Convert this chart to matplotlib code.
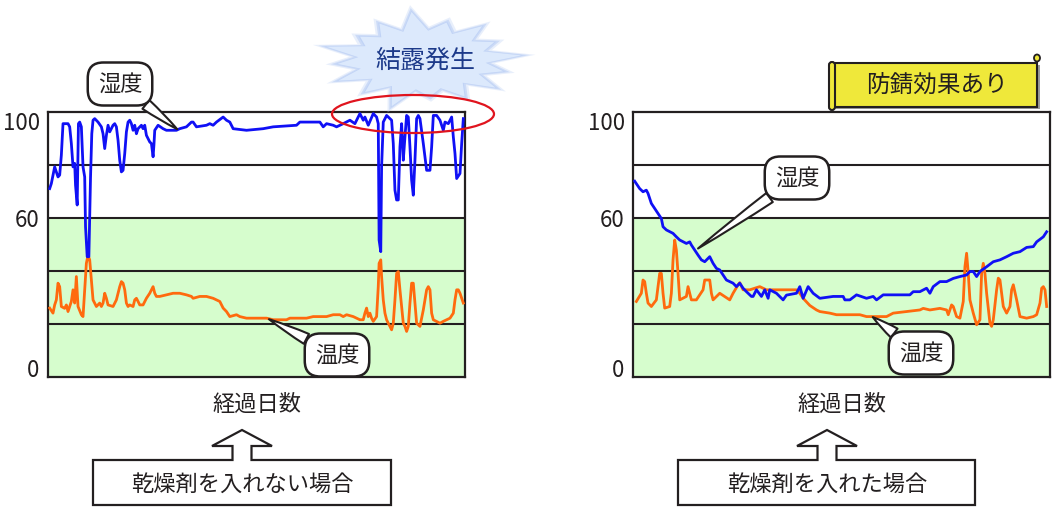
import matplotlib.pyplot as plt
import numpy as np
from matplotlib.patches import Polygon, Ellipse, FancyBboxPatch, Rectangle

plt.rcParams['font.family'] = ['Noto Sans CJK JP', 'DejaVu Sans']

# --- data (x: elapsed days scaled 0-100, y: %) ---
hum_no_x = [0.4, 0.8, 1.6, 2.4, 2.8, 3.2, 3.6, 4.8, 5.2, 5.6, 6.0, 6.4, 6.6, 7.0, 7.3, 7.6,
            8.0, 8.4, 8.8, 9.0, 9.4, 9.8, 10.2, 10.5, 10.8, 11.2, 12.0, 12.8, 13.2, 13.6,
            14.0, 14.4, 14.8, 15.6, 16.0, 16.4, 16.8, 17.2, 17.6, 18.0, 18.4, 18.8, 19.2,
            19.6, 20.0, 20.4, 20.8, 21.2, 21.6, 22.4, 22.8, 23.2, 23.6, 24.4, 24.8, 25.2,
            25.4, 25.6, 26.4, 27.6, 28.4, 30.8, 31.6, 33.2, 34.4, 34.8, 35.6, 38.0, 38.8,
            39.6, 40.4, 42.0, 42.8, 43.6, 44.4, 47.6, 51.6, 54.0, 59.6, 60.4, 65.2, 66.0,
            66.8, 68.4, 69.2, 70.8, 72.4, 73.6, 74.8, 75.6, 76.0, 76.8, 78.0, 78.8, 79.2,
            79.4, 79.8, 80.0, 80.4, 81.2, 82.4, 82.8, 83.2, 83.6, 84.0, 84.4, 84.8, 85.2,
            85.6, 86.0, 86.4, 86.8, 87.2, 87.6, 88.0, 88.4, 88.8, 89.2, 90.0, 90.8, 91.6,
            92.0, 92.4, 93.2, 94.0, 94.8, 95.2, 96.0, 96.8, 97.2, 97.6, 98.0, 98.8, 99.2, 99.6]
hum_no_y = [71.1, 73.0, 79.3, 75.5, 76.2, 83.7, 95.6, 95.6, 94.4, 88.1, 79.3, 80.6, 72.4, 64.9, 95.6, 96.2,
            94.4, 79.3, 75.5, 56.7, 45.4, 45.4, 75.5, 91.8, 96.9, 97.5, 96.2, 94.4, 91.8, 86.2,
            91.2, 95.0, 92.5, 95.0, 95.6, 94.4, 89.3, 81.8, 77.4, 78.0, 84.3, 92.5, 96.2,
            96.9, 95.6, 93.1, 95.0, 91.8, 93.7, 95.0, 93.7, 95.0, 91.2, 88.7, 88.1, 83.1,
            87.5, 93.1, 95.0, 93.7, 93.1, 93.1, 93.7, 94.4, 96.2, 96.2, 94.4, 95.0, 95.6,
            95.0, 96.2, 98.1, 96.9, 96.2, 93.7, 93.1, 93.7, 94.4, 95.0, 96.2, 96.2, 94.4,
            95.6, 95.0, 94.4, 95.6, 96.9, 95.6, 99.4, 96.9, 98.1, 95.0, 99.4, 98.1, 95.6,
            51.7, 47.3, 79.3, 96.2, 98.7, 96.9, 88.1, 70.5, 66.8, 66.8, 86.8, 95.6, 81.8,
            90.6, 98.7, 98.1, 86.8, 74.3, 68.6, 81.8, 97.5, 98.7, 97.5, 88.1, 78.0, 78.0,
            86.8, 98.7, 98.7, 96.9, 93.1, 96.2, 95.6, 98.1, 90.6, 84.3, 74.9, 76.8, 88.1, 97.5]

temp_no_x = [0.4, 1.2, 1.6, 2.0, 2.4, 2.8, 3.2, 4.0, 4.4, 4.8, 5.6, 6.0, 6.4, 6.8, 7.2, 8.0,
             8.4, 8.8, 9.2, 9.6, 10.0, 10.4, 10.8, 11.6, 12.4, 12.8, 13.2, 13.6, 14.0, 14.4,
             15.6, 16.4, 17.2, 17.6, 18.0, 18.4, 18.8, 19.2, 19.6, 20.4, 20.8, 21.2, 21.6,
             22.0, 22.8, 23.6, 24.4, 25.2, 25.6, 26.0, 26.8, 28.4, 30.0, 31.6, 33.2, 34.4,
             34.8, 36.4, 38.0, 39.6, 40.4, 41.2, 42.0, 42.8, 43.6, 45.2, 46.0, 47.6, 52.4,
             54.0, 57.2, 58.0, 62.0, 63.6, 66.8, 68.4, 70.0, 70.8, 71.6, 73.2, 74.0, 74.8,
             75.6, 76.0, 76.4, 76.8, 77.2, 77.6, 78.0, 78.8, 79.2, 79.4, 79.8, 80.0, 80.4,
             80.8, 81.2, 81.6, 82.0, 82.4, 82.8, 83.2, 83.6, 84.0, 84.4, 84.8, 85.2, 85.6,
             86.0, 86.4, 86.8, 87.2, 87.6, 88.0, 88.4, 89.2, 90.0, 90.8, 91.2, 91.6, 92.0,
             92.4, 94.0, 94.8, 96.4, 97.2, 97.6, 98.0, 98.4, 98.8, 99.6]
temp_no_y = [26.0, 24.1, 27.2, 29.1, 35.4, 34.1, 26.6, 25.9, 27.2, 24.7, 28.5, 32.9, 27.9, 37.9, 26.6, 23.5,
             22.8, 32.9, 42.9, 46.0, 44.2, 36.6, 29.1, 26.6, 27.9, 26.6, 27.9, 31.6, 29.7, 27.2,
             26.6, 29.1, 34.1, 36.0, 35.4, 32.9, 27.9, 26.6, 27.2, 26.6, 29.1, 29.7, 28.5,
             27.2, 27.2, 29.7, 31.6, 34.1, 31.6, 30.4, 30.4, 31.0, 31.6, 31.6, 31.0, 30.4,
             29.7, 30.4, 30.4, 29.7, 29.1, 28.5, 26.0, 24.7, 22.8, 23.5, 22.8, 22.2, 22.2,
             21.6, 21.6, 22.2, 22.2, 22.8, 22.8, 23.5, 23.5, 22.8, 23.5, 22.8, 22.2, 21.6,
             21.6, 24.1, 26.0, 22.8, 24.1, 22.2, 21.0, 22.8, 34.1, 42.9, 44.2, 37.9, 29.1,
             24.1, 21.6, 20.3, 19.1, 17.8, 20.3, 29.1, 39.1, 39.8, 32.9, 26.6, 20.3, 19.1,
             17.2, 19.1, 27.9, 35.4, 35.4, 27.9, 20.3, 19.1, 25.3, 32.9, 34.1, 32.9, 24.1,
             21.6, 20.3, 21.0, 22.2, 24.1, 29.1, 32.9, 32.9, 31.6, 27.9]

hum_dry_x = [0.4, 1.6, 2.4, 3.2, 3.6, 4.4, 5.2, 6.0, 6.8, 7.2, 8.0, 9.6, 10.4, 11.2, 12.8, 13.6,
             14.0, 14.8, 15.6, 16.4, 17.2, 18.4, 19.2, 20.0, 20.8, 21.6, 22.4, 24.0, 24.8,
             25.6, 26.4, 27.2, 28.4, 28.8, 29.6, 30.8, 31.6, 32.4, 32.8, 34.4, 36.0, 36.8,
             39.2, 40.0, 40.8, 42.0, 43.2, 44.8, 48.0, 50.4, 50.8, 52.0, 53.6, 56.0, 57.6,
             58.4, 60.0, 66.4, 67.2, 68.8, 70.4, 71.2, 72.0, 73.6, 75.2, 76.8, 78.4, 80.0,
             80.8, 81.6, 82.4, 83.2, 84.8, 86.4, 88.0, 89.6, 91.2, 92.8, 94.4, 96.0, 96.8,
             98.4, 99.2]
hum_dry_y = [73.9, 71.1, 69.9, 70.5, 69.3, 65.5, 63.6, 61.7, 59.8, 56.7, 55.5, 54.2, 52.9, 51.7, 50.4, 51.0,
             49.8, 47.9, 46.0, 44.2, 43.5, 45.4, 42.9, 41.0, 40.4, 38.5, 36.6, 35.4, 34.1,
             35.4, 33.5, 32.2, 30.4, 30.4, 32.9, 30.4, 32.9, 29.7, 32.9, 31.6, 29.1, 30.9,
             31.6, 34.1, 29.7, 34.1, 31.6, 29.7, 30.4, 30.4, 29.1, 29.1, 31.0, 29.7, 30.4,
             29.1, 31.0, 31.0, 32.2, 32.2, 33.5, 31.6, 34.1, 36.0, 36.0, 37.2, 37.9, 38.5,
             39.8, 39.8, 37.9, 39.8, 41.6, 43.5, 44.2, 45.4, 46.7, 47.3, 48.9, 49.2, 51.0,
             52.9, 54.8]

temp_dry_x = [0.8, 2.0, 2.4, 2.8, 3.2, 3.6, 4.4, 5.6, 6.4, 6.8, 7.2, 7.6, 8.8, 9.2, 9.6, 10.0,
              10.4, 10.8, 11.2, 12.8, 13.2, 14.0, 15.2, 16.8, 17.2, 18.4, 18.8, 19.2, 20.8,
              23.2, 24.0, 25.2, 25.6, 26.4, 28.0, 30.4, 32.0, 39.2, 40.0, 40.8, 42.4, 44.0,
              44.8, 47.2, 48.8, 54.4, 56.0, 60.8, 62.4, 65.6, 68.8, 69.6, 71.2, 73.6, 75.2,
              75.6, 76.4, 76.8, 77.6, 78.4, 79.2, 79.6, 80.0, 80.4, 80.8, 81.6, 82.4, 83.2,
              83.6, 84.0, 84.4, 84.8, 85.6, 86.0, 86.4, 87.2, 87.6, 88.0, 88.8, 89.6, 90.4,
              90.8, 91.2, 92.0, 92.8, 94.4, 96.0, 96.8, 97.6, 98.0, 98.4, 98.8, 99.2]
temp_dry_y = [28.5, 31.6, 36.6, 36.0, 31.6, 27.9, 26.6, 29.1, 39.1, 39.1, 31.6, 26.0, 26.6, 31.6, 44.2, 51.7,
              47.9, 39.1, 29.1, 30.4, 34.1, 29.1, 29.1, 32.9, 36.6, 36.6, 31.6, 29.1, 31.6,
              29.1, 31.6, 34.8, 35.6, 32.9, 32.9, 34.1, 32.9, 32.9, 31.6, 29.7, 27.0, 25.3,
              24.7, 24.1, 23.5, 23.5, 22.8, 22.8, 24.1, 24.7, 25.3, 25.9, 25.3, 25.9, 25.3,
              23.5, 27.2, 26.6, 22.8, 22.2, 28.5, 41.6, 46.7, 39.1, 29.1, 24.1, 19.7, 21.6,
              39.1, 42.9, 39.1, 31.6, 20.3, 19.1, 21.6, 32.9, 37.3, 36.6, 26.6, 24.1, 26.6,
              32.9, 34.8, 29.1, 22.8, 22.2, 22.8, 23.5, 27.9, 33.5, 34.1, 32.9, 26.6]

y_ticks = [0, 60, 100]
grid_levels = [20, 40, 60, 80]
x_label = '経過日数'

BLUE = '#1010f5'
ORANGE = '#ff6a0e'
GREEN = '#d6fdcd'
INK = '#231f20'

fig = plt.figure(figsize=(10.6, 5.16), dpi=100)


def make_panel(rect, hx, hy, tx, ty):
    ax = fig.add_axes(rect)
    ax.set_xlim(0, 100)
    ax.set_ylim(0, 100)
    ax.axhspan(0, 60, color=GREEN, zorder=0)
    for g in grid_levels:
        ax.axhline(g, color=INK, lw=1.5, zorder=1)
    ax.plot(tx, ty, color=ORANGE, lw=2.0, zorder=3)
    ax.plot(hx, hy, color=BLUE, lw=2.0, zorder=4)
    for s in ax.spines.values():
        s.set_color(INK)
        s.set_linewidth(1.6)
    ax.set_xticks([])
    ax.set_yticks(y_ticks)
    ax.set_yticklabels([str(v) for v in y_ticks], fontsize=16, color=INK)
    ax.tick_params(axis='y', length=0, pad=6)
    labs = ax.get_yticklabels()
    labs[0].set_va('baseline')
    labs[-1].set_va('top')
    ax.set_xlabel(x_label, fontsize=16, color=INK, labelpad=11)
    return ax


ax1 = make_panel([48 / 1060, 139 / 516, 417 / 1060, 265 / 516],
                 hum_no_x, hum_no_y, temp_no_x, temp_no_y)
ax2 = make_panel([633 / 1060, 139 / 516, 417 / 1060, 265 / 516],
                 hum_dry_x, hum_dry_y, temp_dry_x, temp_dry_y)


def callout(ax, label, xy, xytext):
    ax.annotate(label, xy=xy, xycoords='data',
                xytext=xytext, textcoords='figure pixels',
                ha='center', va='center', fontsize=16, color=INK, zorder=10,
                bbox=dict(boxstyle='round,pad=0.45,rounding_size=0.7',
                          fc='white', ec=INK, lw=1.8),
                arrowprops=dict(arrowstyle='wedge,tail_width=0.5,shrink_factor=0.6',
                                fc='white', ec=INK, lw=1.5, shrinkA=0, shrinkB=0))


callout(ax1, '湿度', (31, 93.5), (120, 432))
callout(ax1, '温度', (53, 21.8), (337, 161))
callout(ax2, '湿度', (15.6, 48.5), (797, 338))
callout(ax2, '温度', (57.5, 22.6), (921, 163))

# --- decoration layer in pixel coordinates ---
deco = fig.add_axes([0, 0, 1, 1])
deco.set_xlim(0, 1060)
deco.set_ylim(516, 0)
deco.axis('off')
deco.set_zorder(5)

# starburst
cx, cy = 422, 60
spikes = [1.0, 0.82, 0.95, 0.85, 1.05, 0.9, 0.8, 1.0, 0.85, 0.95, 0.9, 1.05, 0.8, 0.9, 0.95, 0.85]
n = len(spikes)
ang = np.linspace(0, 2 * np.pi, 2 * n, endpoint=False) + 0.1
rad = []
for k in range(n):
    rad += [spikes[k], 0.64]
rad = np.array(rad)
for scale, col, alpha in [(1.14, '#b4caf4', 0.3), (1.08, '#a3bdf1', 0.4), (1.03, '#bcd0f6', 0.7)]:
    pts = np.column_stack([cx + scale * 100 * rad * np.cos(ang), cy - scale * 46 * rad * np.sin(ang)])
    deco.add_patch(Polygon(pts, closed=True, fc=col, ec='none', alpha=alpha))
pts = np.column_stack([cx + 100 * rad * np.cos(ang), cy - 46 * rad * np.sin(ang)])
deco.add_patch(Polygon(pts, closed=True, fc='#dce9fc', ec='none'))
deco.text(425, 61, '結露発生', ha='center', va='center', fontsize=18, color='#1d3a8a')

# red ellipse over the condensation zone
deco.add_patch(Ellipse((413, 114), 162, 38, fc='none', ec='#e0141e', lw=1.6))

# yellow banner
deco.add_patch(Rectangle((836, 65), 204, 44, fc='#9a9a9a', ec='none'))
deco.add_patch(Rectangle((833, 63), 204, 44, fc='#efe83a', ec=INK, lw=1.5))
deco.add_patch(FancyBboxPatch((829, 62), 6, 48, boxstyle='round,pad=0,rounding_size=3',
                              fc='#efe83a', ec=INK, lw=1.5))
deco.add_patch(Ellipse((1037, 58), 6, 7, fc='#efe83a', ec=INK, lw=1.3))
deco.text(937, 85, '防錆効果あり', ha='center', va='center', fontsize=17, color=INK)

# bottom boxes with up arrows
def arrow_box(x0, x1, tip):
    s0, s1 = tip - 9.5, tip + 9.5
    h0, h1 = tip - 30, tip + 30
    verts = [(x0, 505), (x0, 460), (s0, 460), (s0, 446), (h0, 446), (tip, 430),
             (h1, 446), (s1, 446), (s1, 460), (x1, 460), (x1, 505)]
    deco.add_patch(Polygon(verts, closed=True, fc='white', ec=INK, lw=1.6))


arrow_box(93, 391, 242)
arrow_box(678, 975, 827)
deco.text(242, 484, '乾燥剤を入れない場合', ha='center', va='center', fontsize=16, color=INK)
deco.text(827, 484, '乾燥剤を入れた場合', ha='center', va='center', fontsize=16, color=INK)

plt.savefig('out.png', dpi=100)
